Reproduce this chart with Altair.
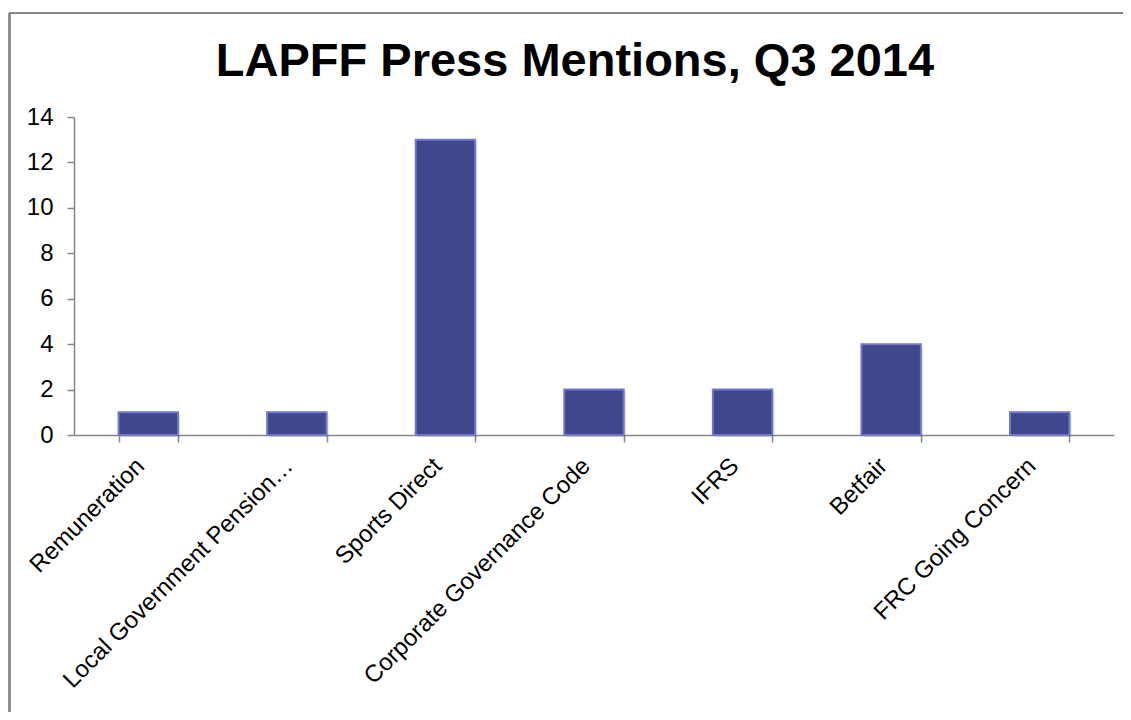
import altair as alt
import pandas as pd

categories = ["Remuneration", "Local Government Pension…", "Sports Direct",
              "Corporate Governance Code", "IFRS", "Betfair", "FRC Going Concern"]
mentions = [1, 1, 13, 2, 2, 4, 1]
y_ticks = [0, 2, 4, 6, 8, 10, 12, 14]
title_text = "LAPFF Press Mentions, Q3 2014"

df = pd.DataFrame({"category": categories, "mentions": mentions})

FONT = "Liberation Sans, Arial, sans-serif"
GRAY = "#868686"

x_enc = alt.X("category:N", sort=categories,
              scale=alt.Scale(paddingInner=0.6, paddingOuter=0.3),
              axis=alt.Axis(title=None, labelAngle=315, labelAlign="right",
                            labelBaseline="middle", labelPadding=20, labelOffset=-8,
                            labelFontSize=24, labelFont=FONT, labelColor="#000000",
                            labelLimit=400, tickBand="extent", tickSize=7,
                            tickColor=GRAY, tickWidth=1.5, domainColor=GRAY,
                            domainWidth=1.5))
y_enc = alt.Y("mentions:Q", scale=alt.Scale(domain=[0, 14], nice=False),
              axis=alt.Axis(title=None, values=y_ticks, grid=False, tickSize=7,
                            tickColor=GRAY, tickWidth=1.5, domainColor=GRAY,
                            domainWidth=1.5, labelFontSize=24, labelFont=FONT,
                            labelColor="#000000", labelPadding=14))

shadow = alt.Chart(df).mark_bar(color="#000000", opacity=0.12, xOffset=2, yOffset=2).encode(
    x=x_enc, y=y_enc)
bars = alt.Chart(df).mark_bar(color="#41478C", stroke="#7078C8", strokeWidth=2).encode(
    x=x_enc, y=y_enc)

border_left = alt.Chart(df).mark_rule(color=GRAY, strokeWidth=1.5).encode(
    x=alt.value(-64.5), y=alt.value(-104), y2=alt.value(700))
border_top = alt.Chart(df).mark_rule(color=GRAY, strokeWidth=1.5).encode(
    x=alt.value(-64.5), x2=alt.value(1200), y=alt.value(-104))

chart = alt.layer(shadow, bars, border_left, border_top).properties(
    width=1040, height=318,
    padding={"left": 66, "top": 109, "right": 9, "bottom": 277},
    autosize=alt.AutoSizeParams(type="none"),
    title=alt.TitleParams(title_text, font=FONT, fontSize=47, fontWeight="bold",
                          color="#000000", anchor="middle", dx=-19, offset=0, dy=111,
                          baseline="alphabetic"),
).configure_view(stroke=None)

chart.save("out.html", embed_options={"renderer": "svg", "actions": False})
